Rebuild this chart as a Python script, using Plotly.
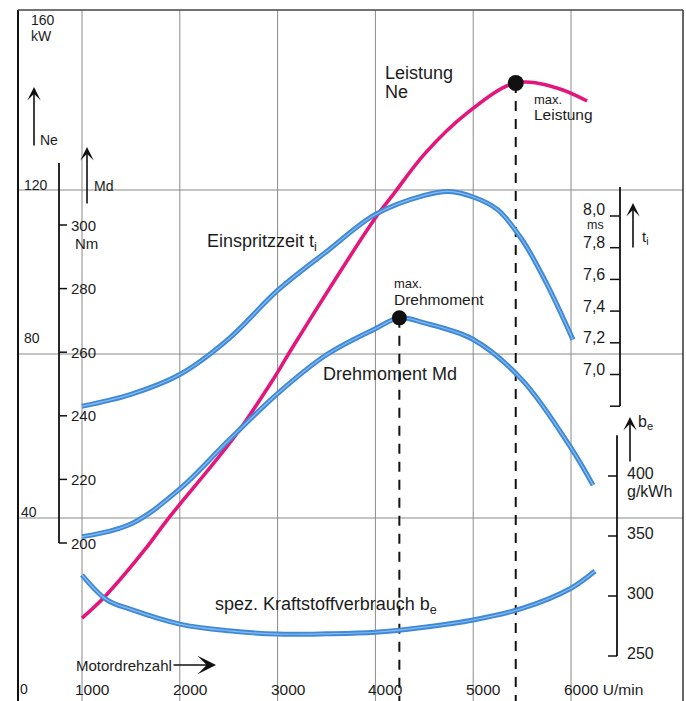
import plotly.graph_objects as go

# ---------------- values ----------------
rpm_ticks = [1000, 2000, 3000, 4000, 5000, 6000]
rpm_tick_text = ["1000", "2000", "3000", "4000", "5000", "6000 U/min"]
ne_ticks = [160, 120, 80, 40, 0]
ne_grid = [40, 80, 120]
md_ticks = [200, 220, 240, 260, 280, 300]
ti_ticks = [7.0, 7.2, 7.4, 7.6, 7.8, 8.0]
ti_tick_text = ["7,0", "7,2", "7,4", "7,6", "7,8", "8,0"]
be_ticks = [250, 300, 350, 400]

rpm_ne = [1000, 1240, 1640, 1870, 2565, 2960, 3155, 4015, 4185, 4510, 4940, 5435, 5855, 6165]
ne_kw = [15.6, 21.0, 32.2, 39.5, 60.0, 74.0, 81.7, 113.7, 119.0, 129.0, 138.8, 146.1, 144.9, 141.7]

rpm_ti = [1000, 1500, 2000, 2500, 3000, 3500, 4000, 4500, 4750, 5000, 5250, 5500, 5750, 6020]
ti_ms = [6.80, 6.875, 7.0, 7.225, 7.53, 7.775, 8.01, 8.13, 8.155, 8.12, 8.04, 7.85, 7.575, 7.22]

rpm_md = [1000, 1500, 2000, 2500, 3000, 3500, 4000, 4245, 4500, 5000, 5500, 6000, 6225]
md_nm = [202.0, 206.0, 217.0, 232.3, 247.0, 259.2, 267.4, 270.8, 269.2, 264.0, 251.3, 229.9, 218.2]

rpm_be = [1000, 1250, 1500, 2000, 2500, 3000, 3500, 4000, 4500, 5000, 5500, 6000, 6245]
be_gkwh = [317.5, 297.0, 288.8, 276.6, 271.0, 268.3, 268.5, 269.8, 274.0, 280.0, 289.6, 306.5, 320.8]

max_power_rpm = [5435]
max_power_kw = [146.1]
max_torque_rpm = [4245]
max_torque_nm = [270.8]

# ---------------- geometry / style ----------------
W, H = 686, 701
FONT = "Liberation Sans, Arial, sans-serif"
TXT = "#1c1c1c"
BLUE = "#3f8ad8"
BLUE_CORE = "#8bbcee"
MAGENTA = "#e3167c"
GRID = "#8a8a8a"
SMOOTH = 1.0

X1000_PX, PX_PER_RPM = 82.0, 0.0978


def yrange(ref_val, ref_px, px_per_unit):
    return [ref_val - (H - ref_px) / px_per_unit, ref_val + ref_px / px_per_unit]


x_range = [1000 - X1000_PX / PX_PER_RPM, 1000 + (W - X1000_PX) / PX_PER_RPM]
ne_range = yrange(80, 354, 4.1)
md_range = yrange(200, 543, 3.18)
ti_range = yrange(8.0, 216, 158.5)
be_range = yrange(250, 656, 1.2)


def px(x):
    return x / W


def py(y):
    return 1 - y / H


fig = go.Figure()


def blue_curve(x, y, axis):
    fig.add_trace(go.Scatter(x=x, y=y, yaxis=axis, mode="lines", hoverinfo="skip",
                             line=dict(color=BLUE, width=5, shape="spline", smoothing=SMOOTH)))
    fig.add_trace(go.Scatter(x=x, y=y, yaxis=axis, mode="lines", hoverinfo="skip",
                             line=dict(color=BLUE_CORE, width=1.2, shape="spline", smoothing=SMOOTH)))


blue_curve(rpm_ti, ti_ms, "y3")
blue_curve(rpm_md, md_nm, "y2")
blue_curve(rpm_be, be_gkwh, "y4")
fig.add_trace(go.Scatter(x=rpm_ne, y=ne_kw, yaxis="y", mode="lines", hoverinfo="skip",
                         line=dict(color=MAGENTA, width=3.6, shape="spline", smoothing=SMOOTH)))

fig.add_trace(go.Scatter(x=max_power_rpm, y=max_power_kw, yaxis="y", mode="markers",
                         marker=dict(color="#111", size=16), hoverinfo="skip"))
fig.add_trace(go.Scatter(x=max_torque_rpm, y=max_torque_nm, yaxis="y2", mode="markers",
                         marker=dict(color="#111", size=15), hoverinfo="skip"))

shapes = []
# grid
for r in rpm_ticks:
    shapes.append(dict(type="line", xref="x", yref="paper", x0=r, x1=r, y0=0, y1=py(10),
                       line=dict(color=GRID, width=1), layer="below"))
for v in ne_grid:
    shapes.append(dict(type="line", xref="paper", yref="y", x0=px(18), x1=px(683), y0=v, y1=v,
                       line=dict(color=GRID, width=1), layer="below"))
# frame
shapes.append(dict(type="line", xref="paper", yref="paper", x0=px(18), x1=px(18), y0=0, y1=py(10),
                   line=dict(color="#111", width=2)))
shapes.append(dict(type="line", xref="paper", yref="paper", x0=px(18), x1=px(683), y0=py(10), y1=py(10),
                   line=dict(color="#444", width=1.3)))
shapes.append(dict(type="line", xref="paper", yref="paper", x0=px(683), x1=px(683), y0=0, y1=py(10),
                   line=dict(color="#333", width=1.5)))
# dashed guide lines
shapes.append(dict(type="line", xref="x", yref="y", x0=max_power_rpm[0], x1=max_power_rpm[0],
                   y0=max_power_kw[0], y1=ne_range[0],
                   line=dict(color="#111", width=2, dash="10px,8px"), layer="below"))
shapes.append(dict(type="line", xref="x", yref="y2", x0=max_torque_rpm[0], x1=max_torque_rpm[0],
                   y0=max_torque_nm[0], y1=md_range[0],
                   line=dict(color="#111", width=2, dash="10px,8px"), layer="below"))

# Md axis (left, inner)
shapes.append(dict(type="line", xref="paper", yref="y2", x0=px(59), x1=px(59), y0=md_ticks[0], y1=319.5,
                   line=dict(color="#111", width=1.8)))
for v in md_ticks:
    shapes.append(dict(type="line", xref="paper", yref="y2", x0=px(59), x1=px(67), y0=v, y1=v,
                       line=dict(color="#111", width=1.5)))
# ti axis (right, upper)
shapes.append(dict(type="line", xref="paper", yref="y3", x0=px(620), x1=px(620), y0=6.8, y1=8.183,
                   line=dict(color="#111", width=1.8)))
for v in ti_ticks + [6.8]:
    shapes.append(dict(type="line", xref="paper", yref="y3", x0=px(610), x1=px(620), y0=v, y1=v,
                       line=dict(color="#111", width=1.5)))
# be axis (right, lower)
shapes.append(dict(type="line", xref="paper", yref="y4", x0=px(617), x1=px(617), y0=be_ticks[0], y1=434,
                   line=dict(color="#111", width=1.8)))
for v in be_ticks:
    shapes.append(dict(type="line", xref="paper", yref="y4", x0=px(608), x1=px(617), y0=v, y1=v,
                       line=dict(color="#111", width=1.5)))

ann = []


def text(x, y, s, size, anchor="left", **kw):
    d = dict(x=px(x), y=py(y), xref="paper", yref="paper", text=s, showarrow=False,
             xanchor=anchor, yanchor="middle", font=dict(family=FONT, size=size, color=TXT))
    d.update(kw)
    ann.append(d)


def arrow(x, y_head, dx, dy, head=3, size=1.4, width=1.6):
    ann.append(dict(x=px(x), y=py(y_head), xref="paper", yref="paper", text="", showarrow=True,
                    ax=dx, ay=dy, arrowhead=head, arrowsize=size, arrowwidth=width,
                    arrowcolor="#111"))


# Ne labels (left)
ne_label_pos = {160: (29, 20), 120: (22, 185), 80: (22, 338), 40: (19, 512), 0: (18, 689)}
for v in ne_ticks:
    x, y = ne_label_pos[v]
    text(x, y, str(v), 14)
text(29, 36, "kW", 14)
arrow(34, 87, 0, 60)
text(38, 140, "Ne", 14)
arrow(87, 147, 0, 58)
text(92, 186, "Md", 14)

# Md tick labels
for v in md_ticks:
    ann.append(dict(x=px(69), y=v, xref="paper", yref="y2", text=str(v), showarrow=False,
                    xanchor="left", yanchor="middle", font=dict(family=FONT, size=15, color=TXT)))
ann.append(dict(x=px(73), y=md_ticks[-1], xref="paper", yref="y2", text="Nm", showarrow=False,
                xanchor="left", yanchor="middle", yshift=-18, font=dict(family=FONT, size=15, color=TXT)))

# ti tick labels
for v, s in zip(ti_ticks, ti_tick_text):
    ann.append(dict(x=px(607), y=v, xref="paper", yref="y3", text=s, showarrow=False,
                    xanchor="right", yanchor="middle", yshift=7 if v == 8.0 else 5,
                    font=dict(family=FONT, size=16, color=TXT)))
ann.append(dict(x=px(606), y=ti_ticks[-1], xref="paper", yref="y3", text="ms", showarrow=False,
                xanchor="right", yanchor="middle", yshift=-9, font=dict(family=FONT, size=12.5, color=TXT)))
arrow(633, 203, 0, 46)
text(640, 238, "t<sub>i</sub>", 15)

# be tick labels
for v in be_ticks:
    ann.append(dict(x=px(625), y=v, xref="paper", yref="y4", text=str(v), showarrow=False,
                    xanchor="left", yanchor="middle", yshift=3, font=dict(family=FONT, size=16, color=TXT)))
ann.append(dict(x=px(625), y=400, xref="paper", yref="y4", text="g/kWh", showarrow=False,
                xanchor="left", yanchor="middle", yshift=-15, font=dict(family=FONT, size=16, color=TXT)))
arrow(630, 417, 0, 46)
text(636, 422, "b<sub>e</sub>", 16)

# rpm tick labels
for r, s in zip(rpm_ticks, rpm_tick_text):
    ann.append(dict(x=r, y=py(689), xref="x", yref="paper", text=s, showarrow=False,
                    xanchor="left", yanchor="middle", xshift=-9, font=dict(family=FONT, size=15.5, color=TXT)))
text(74, 665, "Motordrehzahl", 15)
arrow(216, 665, -44, 0, head=3, size=2.2, width=1.4)

# curve labels
text(383, 73, "Leistung", 18)
text(383, 92, "Ne", 18)
text(532, 99, "max.", 13)
text(532, 115, "Leistung", 15.5)
text(205, 242, "Einspritzzeit t<sub>i</sub>", 18)
text(392, 284, "max.", 13)
text(392, 300, "Drehmoment", 15.5)
text(321, 374, "Drehmoment Md", 18)
text(213, 605, "spez. Kraftstoffverbrauch b<sub>e</sub>", 18)

fig.update_layout(
    width=W, height=H,
    margin=dict(l=0, r=0, t=0, b=0, pad=0),
    paper_bgcolor="white", plot_bgcolor="white",
    showlegend=False,
    xaxis=dict(range=x_range, visible=False, fixedrange=True),
    yaxis=dict(range=ne_range, visible=False, fixedrange=True),
    yaxis2=dict(range=md_range, overlaying="y", visible=False, fixedrange=True),
    yaxis3=dict(range=ti_range, overlaying="y", visible=False, fixedrange=True),
    yaxis4=dict(range=be_range, overlaying="y", visible=False, fixedrange=True),
    shapes=shapes,
    annotations=ann,
)

fig.write_html("out.html", config={"displayModeBar": False},
               post_script="document.body.style.margin='0px';document.body.style.overflow='hidden';")
